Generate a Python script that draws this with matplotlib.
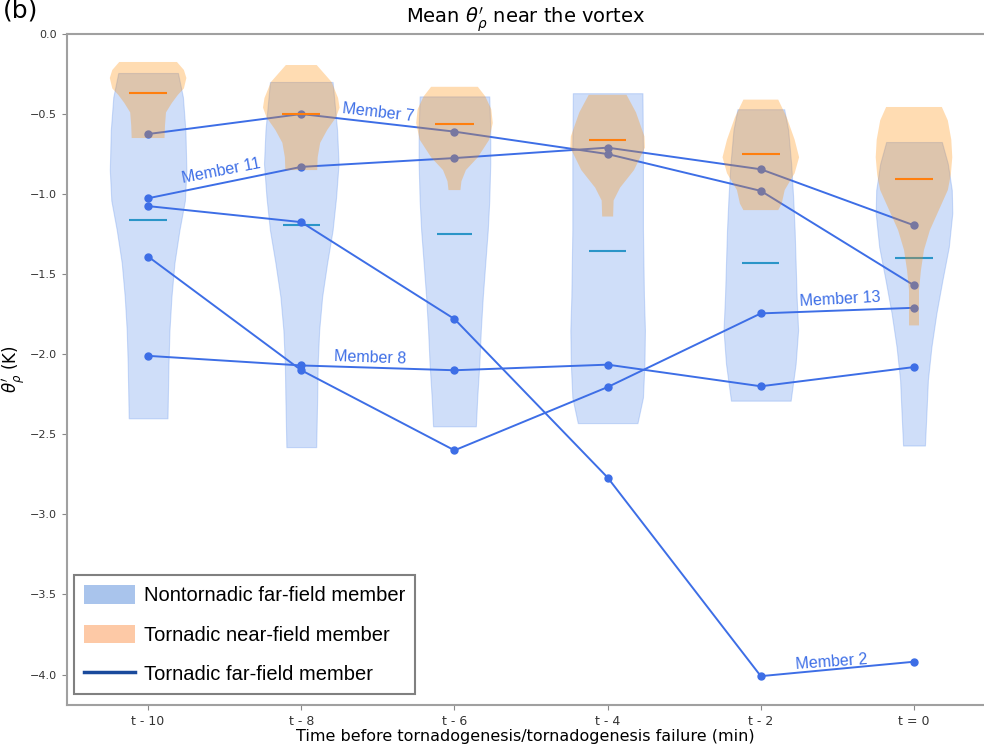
import numpy as np
import matplotlib
matplotlib.use("Agg")
import matplotlib.pyplot as plt
from matplotlib.patches import Patch
from matplotlib.lines import Line2D

# time steps before tornadogenesis / failure
time_labels = ["t - 10", "t - 8", "t - 6", "t - 4", "t - 2", "t = 0"]
positions = np.arange(len(time_labels))

# nontornadic far-field members: violin outline (theta' levels, relative width)
far_levels = [
    [-0.244, -0.394, -0.60, -0.85, -1.04, -1.225, -1.43, -1.64, -1.85, -2.06, -2.40],
    [-0.30, -0.60, -0.81, -1.02, -1.225, -1.43, -1.64, -1.85, -2.06, -2.27, -2.58],
    [-0.39, -0.60, -0.81, -1.04, -1.225, -1.43, -1.64, -1.85, -2.06, -2.26, -2.45],
    [-0.37, -0.725, -1.225, -1.64, -1.85, -2.06, -2.27, -2.43],
    [-0.47, -0.60, -0.81, -1.02, -1.225, -1.43, -1.64, -1.85, -2.06, -2.29],
    [-0.675, -0.81, -0.975, -1.12, -1.33, -1.54, -1.745, -1.955, -2.16, -2.37, -2.57],
]
far_widths = [
    [60, 70, 75, 77, 74, 63, 53, 47, 43, 41, 39],
    [63, 72, 75, 70, 63, 52, 42, 36, 33, 32, 30],
    [70, 72, 72, 70, 67, 62, 57, 53, 50, 46, 43],
    [70, 71, 71, 73, 75, 74, 71, 60],
    [47, 55, 61, 65, 68, 70, 72, 75, 70, 60],
    [56, 68, 76, 77, 70, 57, 45, 35, 28, 25, 22],
]
far_means = [-1.16, -1.19, -1.25, -1.355, -1.43, -1.40]

# tornadic near-field members
near_levels = [
    [-0.175, -0.225, -0.275, -0.34, -0.38, -0.43, -0.49, -0.57, -0.65],
    [-0.194, -0.30, -0.40, -0.46, -0.52, -0.60, -0.68, -0.77, -0.85],
    [-0.33, -0.39, -0.47, -0.556, -0.66, -0.77, -0.85, -0.92, -0.975],
    [-0.38, -0.49, -0.64, -0.71, -0.85, -0.96, -1.04, -1.14],
    [-0.41, -0.52, -0.66, -0.77, -0.87, -0.975, -1.06, -1.10],
    [-0.456, -0.54, -0.66, -0.77, -0.88, -0.975, -1.10, -1.225, -1.35, -1.475, -1.60, -1.82],
]
near_widths = [
    [58, 72, 77, 72, 60, 48, 36, 34, 33],
    [31, 61, 74, 77, 70, 52, 38, 33, 32],
    [47, 62, 74, 77, 70, 47, 23, 14, 12],
    [38, 57, 74, 75, 53, 25, 12, 11],
    [35, 52, 68, 77, 68, 48, 42, 35],
    [56, 68, 75, 77, 74, 68, 50, 32, 20, 14, 10, 10],
]
near_means = [-0.37, -0.50, -0.56, -0.66, -0.75, -0.905]

# tornadic far-field members
member_names = ["Member 2", "Member 7", "Member 8", "Member 11", "Member 13"]
member_2 = [-1.075, -1.175, -1.78, -2.77, -4.01, -3.92]
member_7 = [-0.625, -0.50, -0.61, -0.75, -0.98, -1.57]
member_8 = [-2.01, -2.07, -2.10, -2.065, -2.20, -2.08]
member_11 = [-1.026, -0.83, -0.775, -0.71, -0.845, -1.195]
member_13 = [-1.39, -2.10, -2.60, -2.205, -1.745, -1.71]
members = [member_2, member_7, member_8, member_11, member_13]

# label anchor (x, y, rotation) for each member
label_x = [4.46, 1.50, 1.45, 0.48, 4.52]
label_y = [-3.92, -0.494, -2.02, -0.856, -1.66]
label_rot = [4, -6.5, -2, 11, 3]

blue_face = (0.39, 0.58, 0.93, 0.5)
blue_edge = (0.39, 0.58, 0.93, 0.6)
orange_face = (1.0, 0.55, 0.0, 0.35)
line_col = "#3d6ee6"


def make_stats(levels, widths, means):
    stats = []
    for lv, w, m in zip(levels, widths, means):
        lv = np.array(lv)
        stats.append({"coords": lv, "vals": np.array(w, dtype=float),
                      "mean": m, "median": m, "min": lv.min(), "max": lv.max()})
    return stats


fig = plt.figure(figsize=(9.84, 7.46), dpi=100)
ax = fig.add_axes([0.068, 0.055, 0.932, 0.8995])

# far-field violins (scaled so the widest point is 0.5 wide)
far_w = [0.5 * max(w) / 77 for w in far_widths]
vp = ax.violin(make_stats(far_levels, far_widths, far_means), positions=positions,
               widths=far_w, showmeans=True, showextrema=False)
for b in vp["bodies"]:
    b.set_facecolor(blue_face)
    b.set_edgecolor(blue_edge)
    b.set_linewidth(0.8)
    b.set_zorder(1)
vp["cmeans"].set_color("#2b95c8")
vp["cmeans"].set_linewidth(1.5)
vp["cmeans"].set_zorder(1.5)

# member trajectories
for vals in members:
    ax.plot(positions, vals, color=line_col, lw=1.4, marker="o", ms=5, zorder=2)
for name, x, y, r in zip(member_names, label_x, label_y, label_rot):
    ax.text(x, y, name, color=line_col, fontsize=11.5, family="Liberation Sans",
            rotation=r, ha="center", va="center", zorder=4)

# near-field violins on top
near_w = [0.5 * max(w) / 77 for w in near_widths]
vp2 = ax.violin(make_stats(near_levels, near_widths, near_means), positions=positions,
                widths=near_w, showmeans=True, showextrema=False)
for b in vp2["bodies"]:
    b.set_facecolor(orange_face)
    b.set_edgecolor("none")
    b.set_zorder(3)
vp2["cmeans"].set_color("#ff7f0e")
vp2["cmeans"].set_linewidth(1.5)
vp2["cmeans"].set_zorder(3.5)

ax.set_xlim(-0.53, 5.457)
ax.set_ylim(-4.19, 0.0)
ax.set_xticks(positions)
ax.set_xticklabels(time_labels, fontsize=9, color="#333333")
ax.set_yticks(np.arange(-4.0, 0.01, 0.5))
ax.tick_params(axis="y", labelsize=8, labelcolor="#333333", color="#888888")
ax.tick_params(axis="x", color="#888888")
for s in ["left", "bottom", "top"]:
    ax.spines[s].set_color("#a0a0a0")
    ax.spines[s].set_linewidth(1.5)
ax.spines["right"].set_visible(False)

ax.set_title(r"Mean $\theta^{\prime}_{\rho}$ near the vortex", fontsize=14, pad=6)
ax.set_xlabel("Time before tornadogenesis/tornadogenesis failure (min)", fontsize=11.5, labelpad=1)
ax.set_ylabel(r"$\theta^{\prime}_{\rho}$ (K)", fontsize=12)
ax.yaxis.set_label_coords(-0.042, 0.5)

handles = [Patch(facecolor="#a9c4ec", edgecolor="none"),
           Patch(facecolor="#fdc9a6", edgecolor="none"),
           Line2D([], [], color="#1a4a9c", lw=2.5)]
labels = ["Nontornadic far-field member", "Tornadic near-field member",
          "Tornadic far-field member"]
leg = ax.legend(handles, labels, loc="lower left", bbox_to_anchor=(0.008, 0.016),
                borderaxespad=0, prop={"family": "Liberation Sans", "size": 14.5},
                handlelength=2.5, handleheight=1.05, handletextpad=0.45,
                labelspacing=0.95, borderpad=0.5, fancybox=False, framealpha=1)
leg.get_frame().set_edgecolor("#808080")
leg.get_frame().set_linewidth(1.5)
leg.set_zorder(5)

fig.text(0.003, 0.986, "(b)", fontsize=18, va="center", ha="left")

fig.savefig("out.png", dpi=100)
